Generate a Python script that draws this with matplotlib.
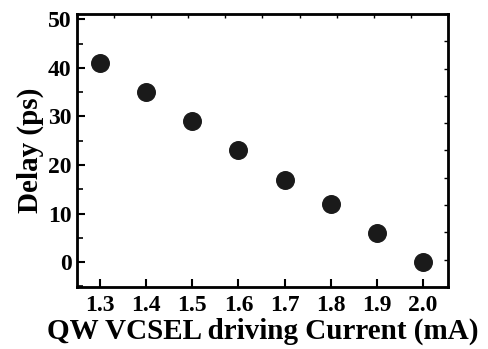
import matplotlib
matplotlib.use("Agg")
import matplotlib.pyplot as plt
from matplotlib.ticker import MultipleLocator

current = [1.3, 1.4, 1.5, 1.6, 1.7, 1.8, 1.9, 2.0]
delay = [41, 35, 29, 23, 17, 12, 6, 0]

plt.rcParams['font.family'] = ['Liberation Serif', 'DejaVu Serif']
plt.rcParams['font.weight'] = 'bold'

fig = plt.figure(figsize=(4.89, 3.49), dpi=100)
ax = fig.add_axes([0.1575, 0.178, 0.7585, 0.782])

ax.scatter(current, delay, s=160, color='#1a1a1a', zorder=3)

ax.set_xlim(1.25, 2.054)
ax.set_ylim(-5.1, 51.1)
ax.set_xticks(current)
ax.set_xticklabels([f"{v:.1f}" for v in current])
ax.yaxis.set_major_locator(MultipleLocator(10))
ax.yaxis.set_minor_locator(MultipleLocator(5))
ax.tick_params(axis='both', which='major', direction='in', length=6, width=1.5,
               labelsize=17)
ax.tick_params(axis='y', which='minor', direction='in', length=4, width=1.2)
ax.tick_params(axis='x', pad=6)
ax.tick_params(axis='y', pad=4)
for s in ax.spines.values():
    s.set_linewidth(2)

ax.set_xlabel("QW VCSEL driving Current (mA)", fontsize=21, fontweight='bold',
              labelpad=1)
ax.set_ylabel("Delay (ps)", fontsize=21, fontweight='bold', labelpad=3)

# top and right axes carry plain ticks
axt = ax.twiny()
axt.set_xlim(0, 10)
axt.set_xticks(range(11))
axt.tick_params(axis='x', direction='in', length=3, width=1, labeltop=False)
axr = ax.twinx()
axr.set_ylim(0, 10)
axr.set_yticks(range(11))
axr.tick_params(axis='y', direction='in', length=3, width=1, labelright=False)

fig.savefig("out.png", dpi=100)
